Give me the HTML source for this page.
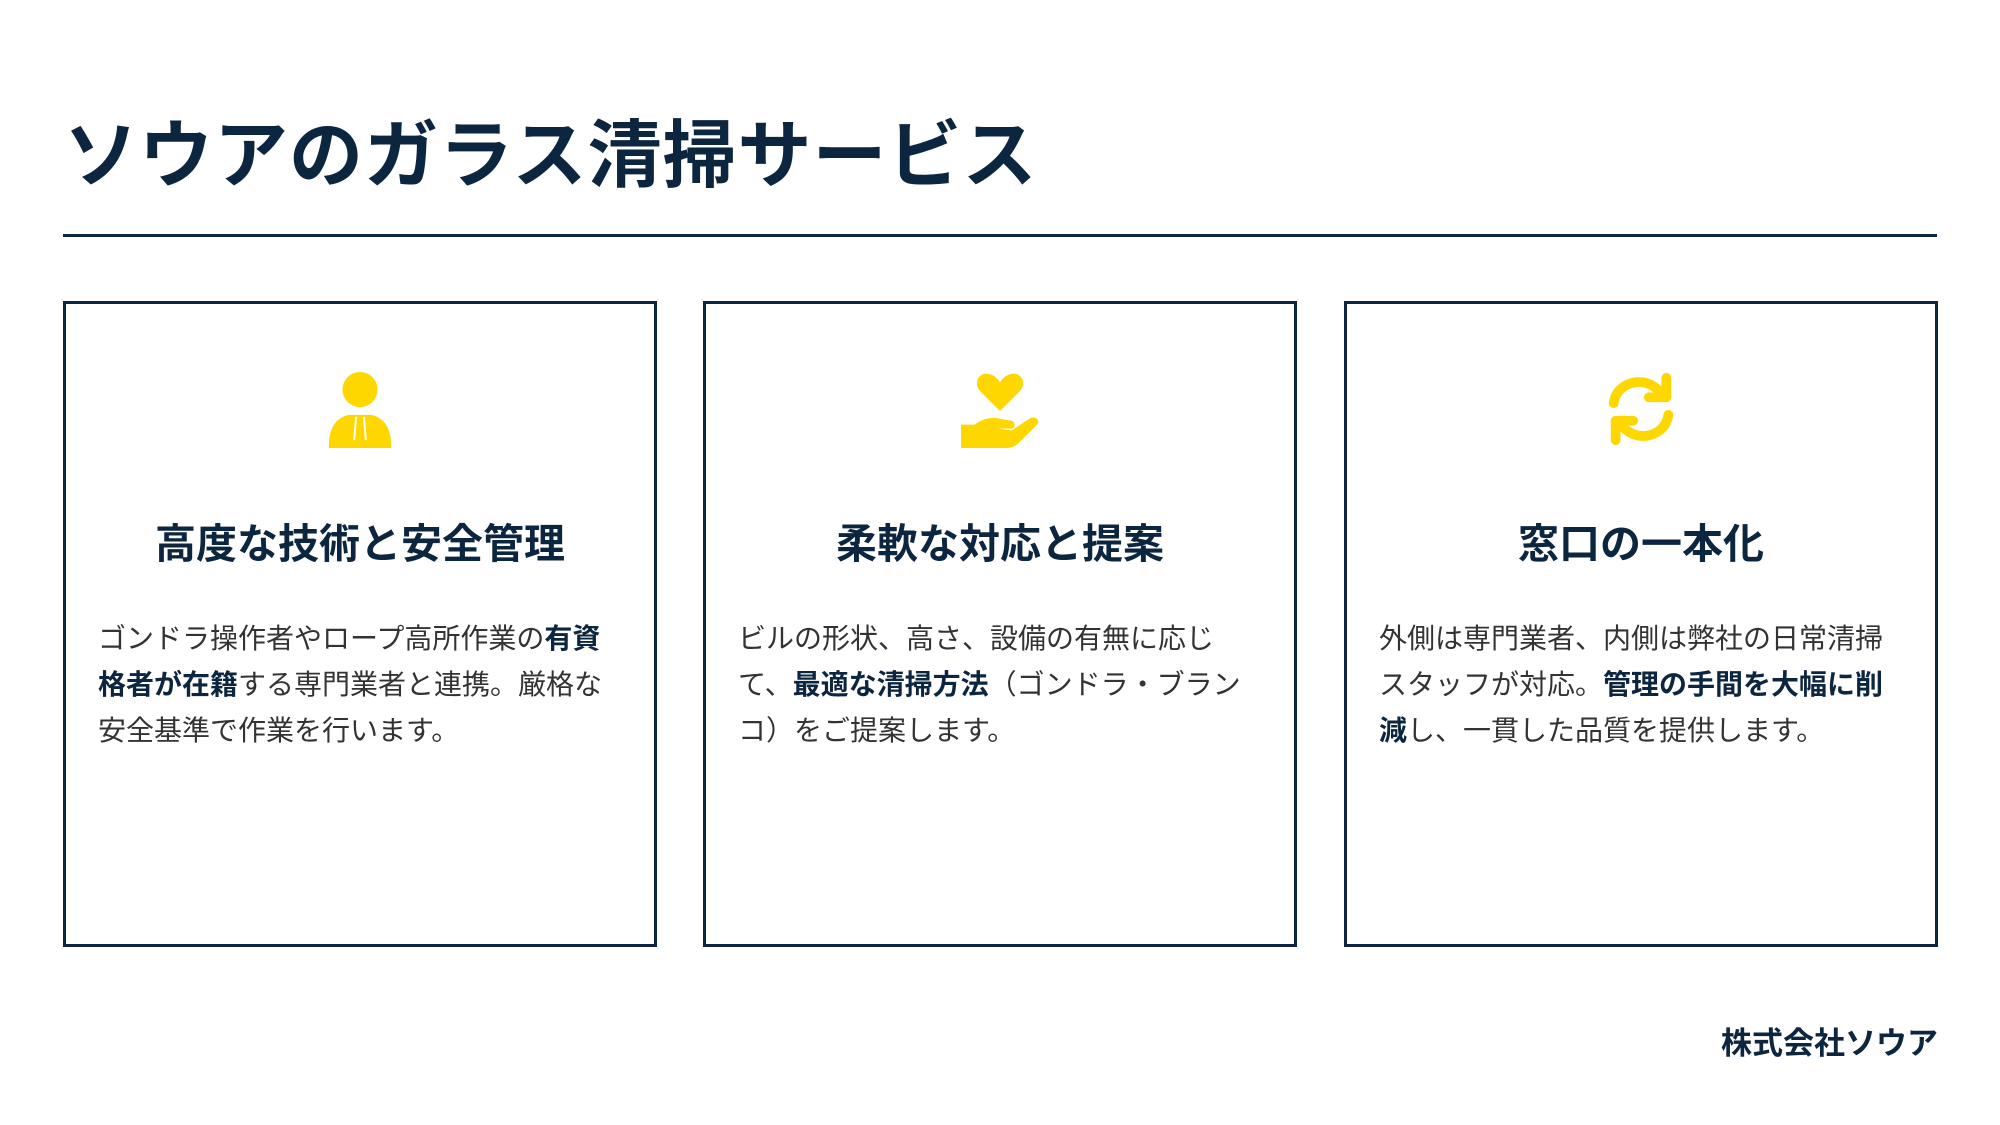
<!DOCTYPE html>
<html><head><meta charset="utf-8"><style>
body{margin:0;width:2000px;height:1125px;background:#fff;position:relative;overflow:hidden;font-family:"Liberation Sans","Noto Sans CJK JP",sans-serif;color:#0d2640}
.title{position:absolute;left:64px;top:106px;font-size:74px;font-weight:bold;line-height:100px;white-space:nowrap;letter-spacing:1px}
.rule{position:absolute;left:63px;top:234px;width:1874px;height:3px;background:#0d2640}
.card{position:absolute;top:301px;width:588px;height:640px;border:3px solid #0d2640}
.icon{position:absolute;left:50%;top:66px;width:78px;height:78px;margin-left:-39px}
.card h2{position:absolute;left:0;right:0;top:215px;margin:0;text-align:center;font-size:41px;font-weight:bold;line-height:50px}
.card p{position:absolute;left:32px;top:312px;margin:0;font-size:28px;line-height:46px;color:#333;white-space:nowrap}
.card p b{color:#0d2640}
.foot{position:absolute;right:62px;top:1022px;font-size:31px;font-weight:bold;line-height:44px}
</style></head><body>
<div class="title">ソウアのガラス清掃サービス</div>
<div class="rule"></div>

<div class="card" style="left:63px">
<svg class="icon" viewBox="0 0 80 80"><circle cx="40" cy="20" r="18" fill="#FFD700"/><path d="M8 80 C8 60 14 50 28 46 L52 46 C66 50 72 60 72 80 Z" fill="#FFD700"/><path d="M36 48 L34 72 M44 48 L46 72" stroke="#fff" stroke-width="2"/></svg>
<h2>高度な技術と安全管理</h2>
<p>ゴンドラ操作者やロープ高所作業の<b>有資</b><br><b>格者が在籍</b>する専門業者と連携。厳格な<br>安全基準で作業を行います。</p>
</div>

<div class="card" style="left:703px">
<svg class="icon" viewBox="0 0 80 80"><path d="M40 42 L20 22 C12 14 18 2 28 4 C34 5 38 9 40 13 C42 9 46 5 52 4 C62 2 68 14 60 22 Z" fill="#FFD700"/><path d="M0 56 L14 56 C22 50 30 48 40 50 L52 52 C56 53 56 60 52 60 L38 60 L52 62 L70 50 C76 46 82 52 78 56 L60 74 C56 78 52 80 46 80 L0 80 Z" fill="#FFD700"/></svg>
<h2>柔軟な対応と提案</h2>
<p>ビルの形状、高さ、設備の有無に応じ<br>て、<b>最適な清掃方法</b>（ゴンドラ・ブラン<br>コ）をご提案します。</p>
</div>

<div class="card" style="left:1344px">
<svg class="icon" viewBox="0 0 80 80"><g fill="none" stroke="#FFD700" stroke-width="10" stroke-linecap="round" stroke-linejoin="round"><path d="M12 34 C14 18 30 10 44 13 C52 15 58 20 62 26"/><path d="M66 8 L66 28 L48 28"/><path d="M68 46 C66 62 50 70 36 67 C28 65 22 60 18 54"/><path d="M14 72 L14 52 L32 52"/></g></svg>
<h2>窓口の一本化</h2>
<p>外側は専門業者、内側は弊社の日常清掃<br>スタッフが対応。<b>管理の手間を大幅に削</b><br><b>減</b>し、一貫した品質を提供します。</p>
</div>

<div class="foot">株式会社ソウア</div>
</body></html>
